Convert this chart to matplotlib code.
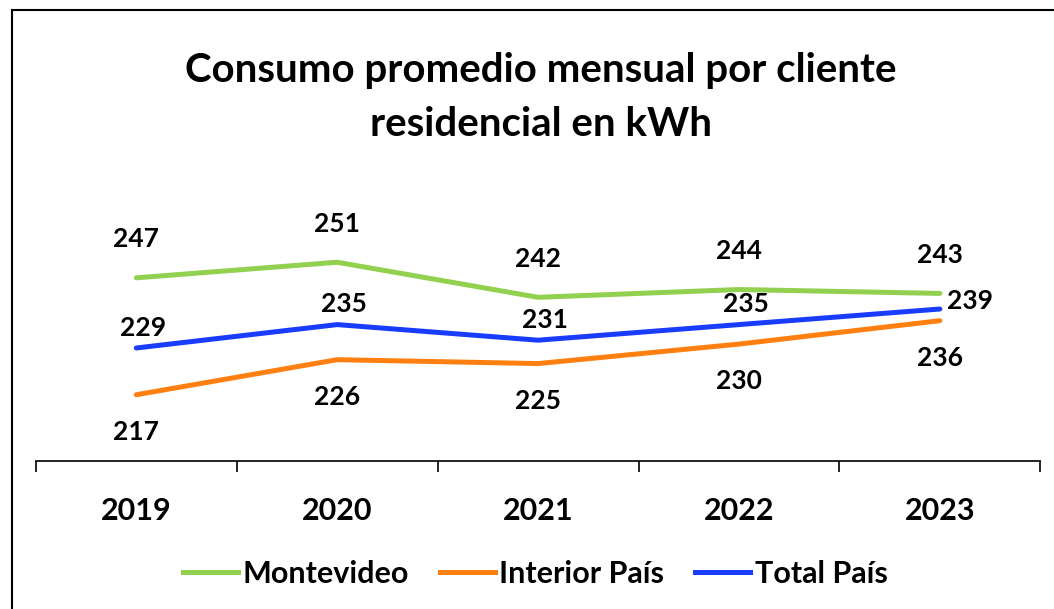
import matplotlib.pyplot as plt
from matplotlib.lines import Line2D
import numpy as np

years = ["2019", "2020", "2021", "2022", "2023"]
montevideo = [247, 251, 242, 244, 243]
interior = [217, 226, 225, 230, 236]
total = [229, 235, 231, 235, 239]

FONT = ["Lato", "DejaVu Sans"]


def main():
    plt.rcParams["font.family"] = FONT
    fig = plt.figure(figsize=(10.54, 6.09), dpi=100)
    ax = fig.add_axes([0.034, 0.243, 0.953, 0.448])

    x = np.arange(len(years))
    ax.plot(x, montevideo, color="#92D050", lw=3.6, label="Montevideo", solid_capstyle="round")
    ax.plot(x, interior, color="#FF8010", lw=3.6, label="Interior País", solid_capstyle="round")
    ax.plot(x, total, color="#1A3CFF", lw=3.6, label="Total País", solid_capstyle="round")

    lab = dict(ha="center", fontsize=19, fontweight="bold", textcoords="offset points")
    for i, v in enumerate(montevideo):
        ax.annotate(f"{v}", (x[i], v), xytext=(0, 19), va="bottom", **lab)
    for i, v in enumerate(interior):
        ax.annotate(f"{v}", (x[i], v), xytext=(0, -18), va="top", **lab)
    for i, v in enumerate(total):
        if i == len(total) - 1:
            ax.annotate(f"{v}", (x[i], v), xytext=(22, 6), va="center", **lab)
        else:
            ax.annotate(f"{v}", (x[i], v), xytext=(5, 6), va="bottom", **lab)

    ax.set_xlim(-0.5, len(years) - 0.5)
    ax.set_ylim(200, 270)
    ax.set_xticks(x)
    ax.set_xticklabels(years, fontsize=22, fontweight="bold")
    ax.set_xticks(np.arange(len(years) + 1) - 0.5, minor=True)
    ax.tick_params(axis="x", which="major", length=0, pad=26)
    ax.tick_params(axis="x", which="minor", length=8, width=1.2, direction="out")
    ax.set_yticks([])
    for side in ["left", "right", "top"]:
        ax.spines[side].set_visible(False)
    ax.spines["bottom"].set_linewidth(1.2)

    fig.text(0.513, 0.84, "Consumo promedio mensual por cliente\nresidencial en kWh",
             ha="center", va="center", fontsize=29, fontweight="bold", linespacing=1.55)

    handles = [Line2D([], [], color=c, lw=3.6) for c in ["#92D050", "#FF8010", "#1A3CFF"]]
    fig.legend(handles, ["Montevideo", "Interior País", "Total País"], loc="center",
               bbox_to_anchor=(0.508, 0.058), ncol=3, frameon=False,
               prop={"weight": "bold", "size": 22}, handlelength=1.8, handletextpad=0.15,
               columnspacing=1.0)

    # outer frame (left and top edges visible)
    fig.add_artist(Line2D([0.011, 0.011], [0.0, 0.984], color="black", lw=1.5))
    fig.add_artist(Line2D([0.011, 1.0], [0.984, 0.984], color="black", lw=1.5))

    fig.savefig("out.png", dpi=100)
    plt.close(fig)


if __name__ == "__main__":
    main()
